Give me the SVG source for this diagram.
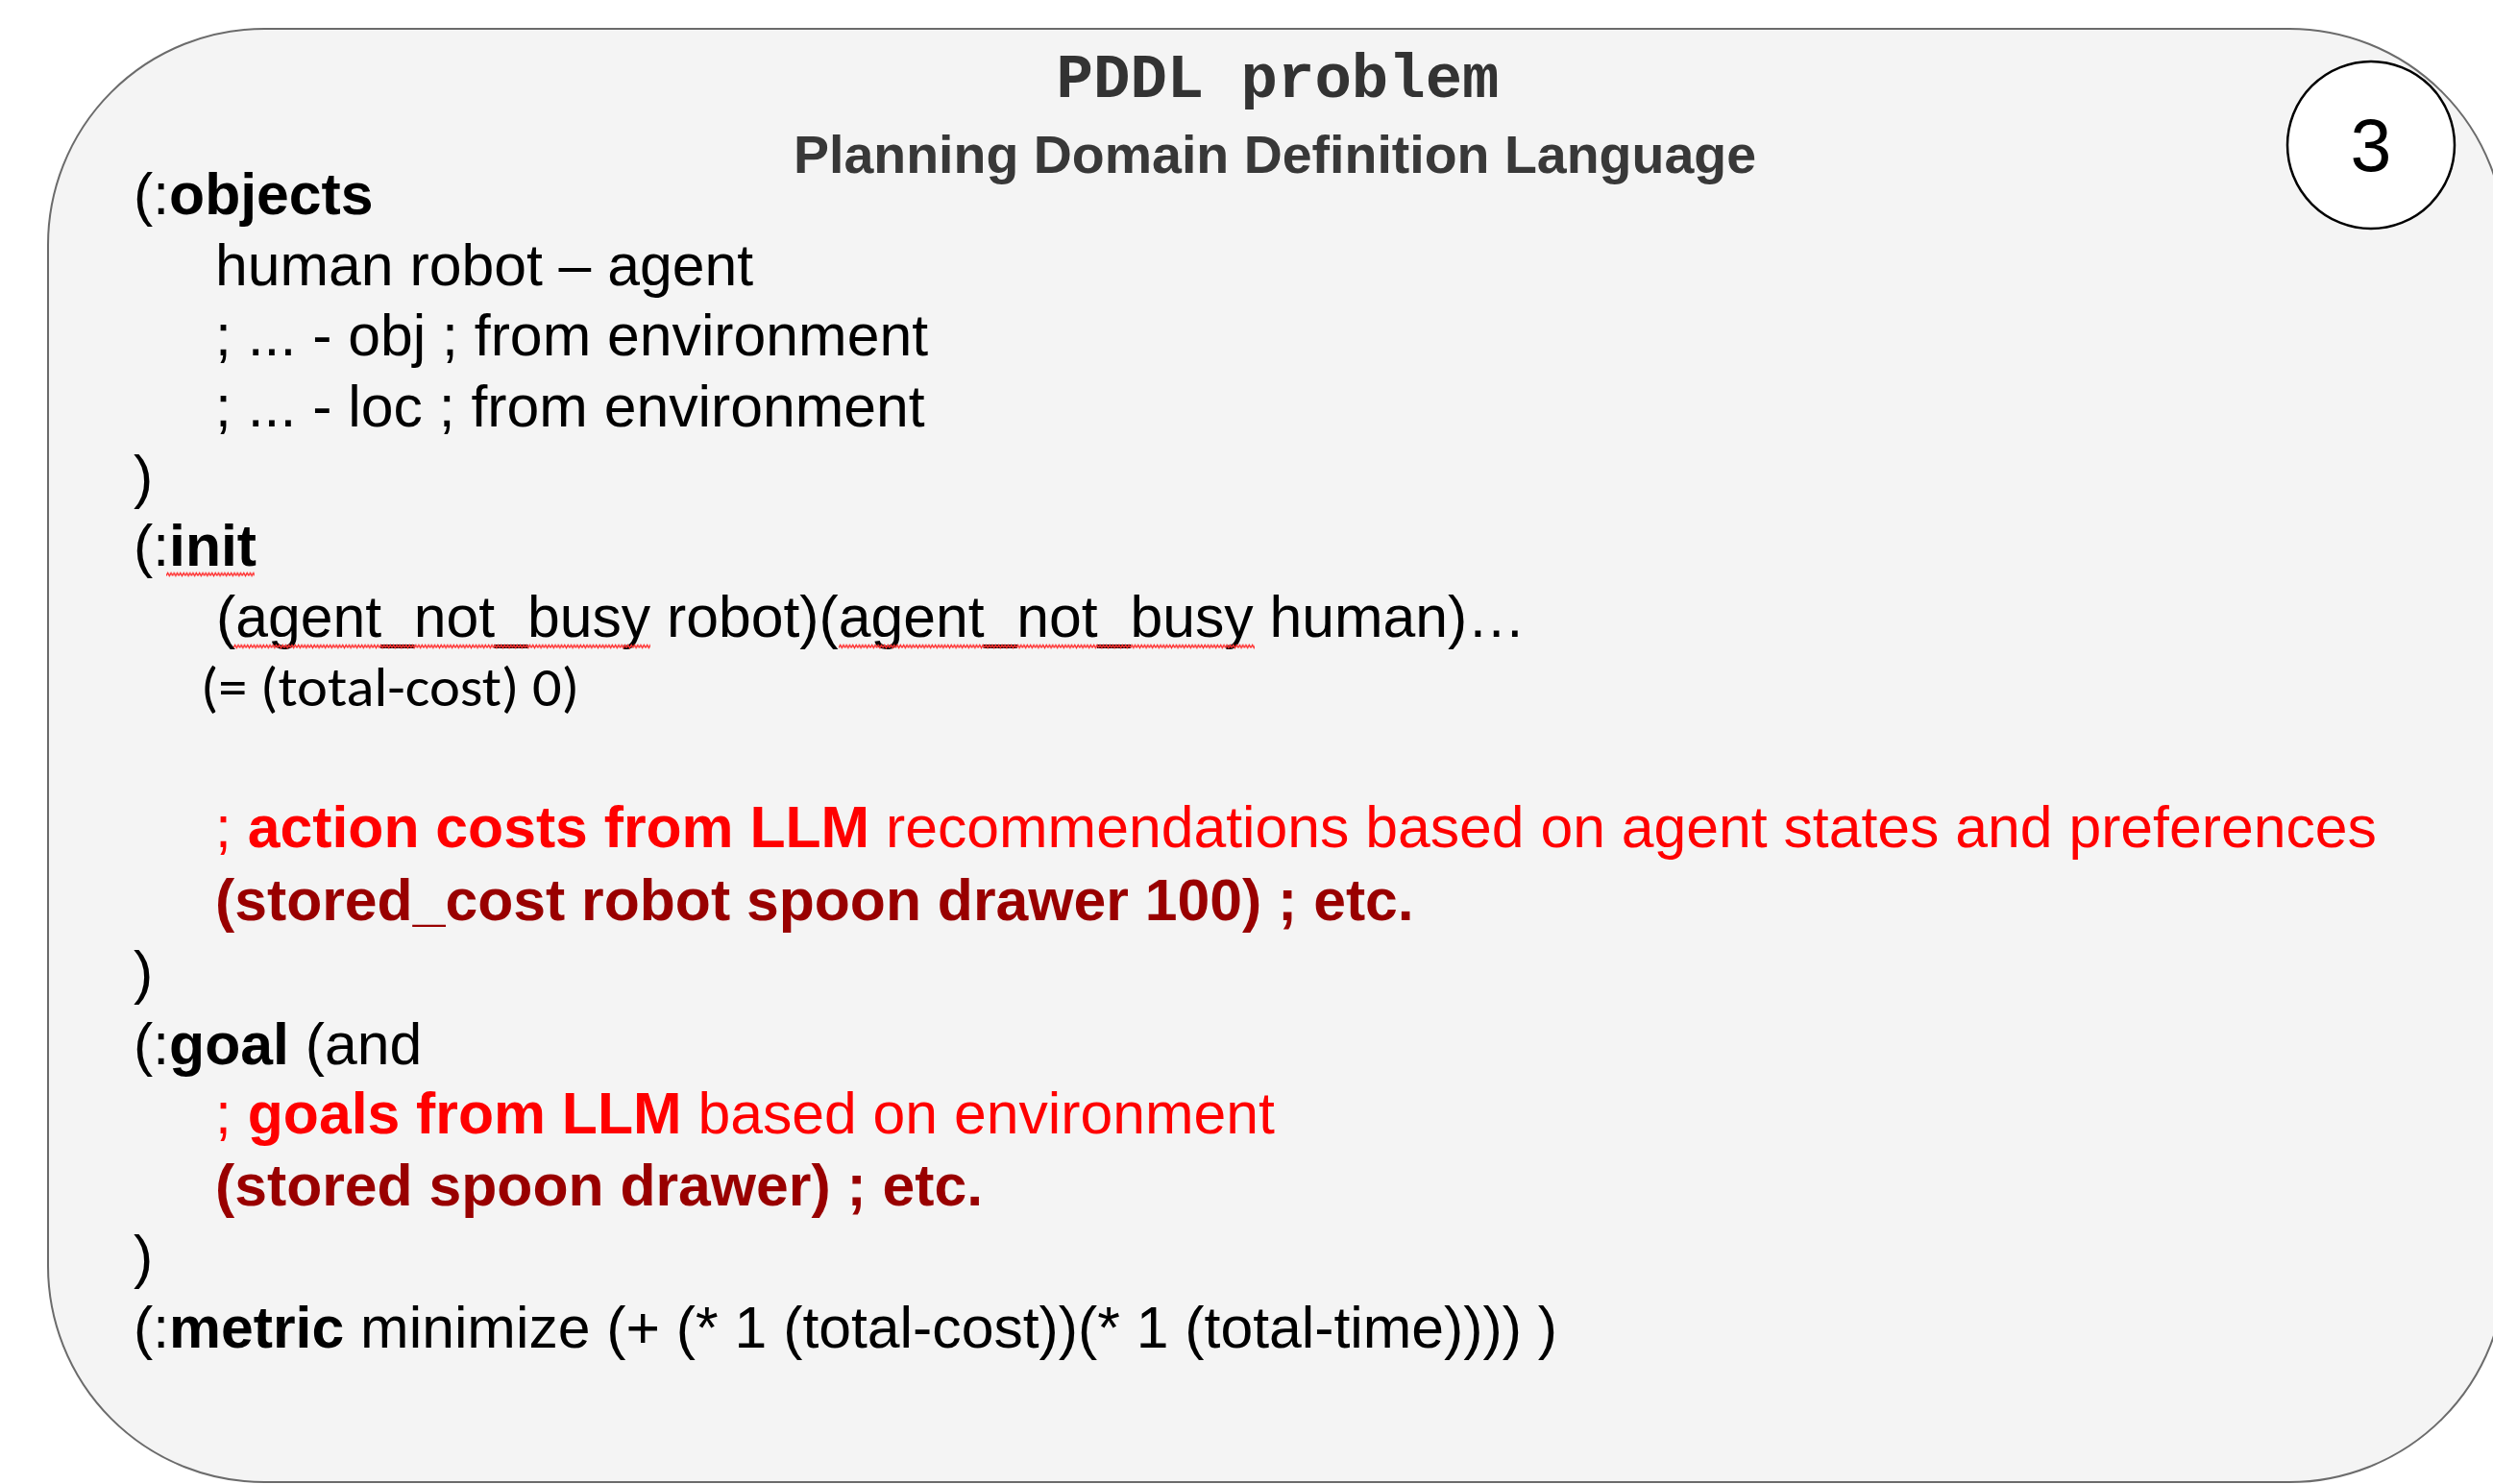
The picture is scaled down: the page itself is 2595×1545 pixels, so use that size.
<svg xmlns="http://www.w3.org/2000/svg" width="2595" height="1545" viewBox="0 0 2595 1545">
  <style>
    .body { font-family: "Liberation Sans", Arial, sans-serif; font-size: 60.7px; fill: #000000; }
    .b { font-weight: bold; }
    .red { fill: #ff0000; }
    .dred { fill: #990000; font-weight: bold; }
    .cal { font-family: Carlito, Lato, sans-serif; font-size: 58px; fill: #000000; }
    .title1 { font-family: "Liberation Mono", "Courier New", monospace; font-weight: bold; font-size: 64px; fill: #333333; }
    .title2 { font-family: "Liberation Sans", Arial, sans-serif; font-weight: bold; font-size: 55.5px; fill: #383838; }
    .num { font-family: "Liberation Sans", Arial, sans-serif; font-size: 77px; fill: #000000; }
  </style>
  <defs>
    <pattern id="wave" x="0" y="0" width="6.6" height="6" patternUnits="userSpaceOnUse">
      <path d="M0,4.5 L1.65,1.5 L3.3,4.5 L4.95,1.5 L6.6,4.5" fill="none" stroke="#ff3030" stroke-width="1.4"/>
    </pattern>
  </defs>

  <g id="panel">
    <rect x="50" y="30" width="2558" height="1513" rx="225" ry="225" fill="#f4f4f4" stroke="#6b6b6b" stroke-width="2"/>
  </g>

  <g id="title">
    <text class="title1" x="1330" y="101" text-anchor="middle">PDDL problem</text>
    <text class="title2" x="1327" y="180" text-anchor="middle">Planning Domain Definition Language</text>
  </g>

  <g id="badge">
    <circle cx="2468" cy="151" r="87" fill="#ffffff" stroke="#000000" stroke-width="2.5"/>
    <text class="num" x="2468" y="178" text-anchor="middle">3</text>
  </g>

  <g id="code">
    <text class="body" x="139" y="223">(:<tspan class="b">objects</tspan></text>
    <text class="body" x="224" y="297">human robot – agent</text>
    <text class="body" x="224" y="370">; ... - obj ; from environment</text>
    <text class="body" x="224" y="444">; ... - loc ; from environment</text>
    <text class="body" x="139" y="517">)</text>
    <text class="body" x="139" y="589">(:<tspan class="b">init</tspan></text>
    <text class="body" x="225" y="663">(agent_not_busy robot)(agent_not_busy human)…</text>
    <text class="cal" x="209" y="735" textLength="394" lengthAdjust="spacingAndGlyphs">(= (total-cost) 0)</text>
    <text class="body red" x="224" y="882" xml:space="preserve">; <tspan class="b">action costs from LLM</tspan> recommendations based on agent states and preferences</text>
    <text class="body dred" x="224" y="958">(stored_cost robot spoon drawer 100) ; etc.</text>
    <text class="body" x="139" y="1033">)</text>
    <text class="body" x="139" y="1108" xml:space="preserve">(:<tspan class="b">goal</tspan> (and</text>
    <text class="body red" x="224" y="1180" xml:space="preserve">; <tspan class="b">goals from LLM</tspan> based on environment</text>
    <text class="body dred" x="224" y="1255">(stored spoon drawer) ; etc.</text>
    <text class="body" x="139" y="1329">)</text>
    <text class="body" x="139" y="1403" xml:space="preserve">(:<tspan class="b">metric</tspan> minimize (+ (* 1 (total-cost))(* 1 (total-time)))) )</text>
  </g>

  <g id="spellcheck">
    <g transform="translate(173,595)"><rect x="0" y="0" width="92" height="6" fill="url(#wave)"/></g>
    <g transform="translate(243,670)"><rect x="0" y="0" width="434" height="6" fill="url(#wave)"/></g>
    <g transform="translate(873,670)"><rect x="0" y="0" width="433" height="6" fill="url(#wave)"/></g>
  </g>

  <g id="connectors"/>
</svg>
